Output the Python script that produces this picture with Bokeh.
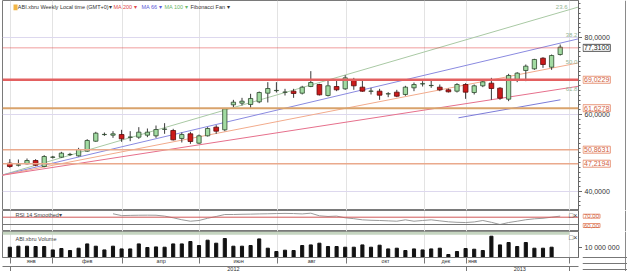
import numpy as np
from bokeh.plotting import figure
from bokeh.layouts import column, row
from bokeh.models import Range1d, LinearAxis, FixedTicker, Label, Span, BoxAnnotation, Grid
from bokeh.embed import file_html
from bokeh.resources import INLINE

FONT = "Liberation Sans"

# ---------------- data ----------------
opens = [47.36, 46.84, 47.19, 48.05, 46.49, 48.88, 48.92, 49.58, 49.26, 50.48,
         53.07, 54.78, 54.63, 54.80, 54.08, 54.11, 54.63, 54.46, 56.15, 55.84,
         53.77, 54.98, 52.55, 54.46, 56.71, 56.02, 62.51, 62.94, 62.60, 63.29,
         65.54, 66.20, 65.77, 66.06, 65.54, 67.27, 67.79, 64.94, 67.27, 66.67,
         69.09, 67.10, 66.03, 66.06, 65.34, 65.80, 65.20, 66.93, 67.94, 67.50,
         67.10, 66.41, 66.06, 67.79, 65.71, 67.45, 68.14, 66.84, 63.98, 69.00,
         71.43, 71.86, 74.63, 72.29, 75.58]
closes = [46.49, 46.93, 48.05, 46.84, 49.09, 48.95, 49.96, 49.64, 50.91, 53.25,
          55.15, 54.83, 54.98, 53.68, 54.14, 55.41, 55.41, 56.10, 56.22, 53.42,
          54.80, 52.99, 54.46, 56.36, 55.67, 61.47, 63.20, 63.46, 64.16, 65.71,
          66.75, 66.26, 65.83, 65.46, 67.10, 68.31, 65.11, 67.45, 66.41, 69.52,
          67.45, 66.06, 66.09, 65.02, 65.40, 64.76, 67.10, 67.79, 68.00, 67.56,
          66.41, 65.89, 67.79, 65.80, 67.45, 68.48, 66.75, 64.24, 70.13, 70.74,
          72.55, 74.29, 72.99, 75.32, 77.49]
highs = [48.40, 48.31, 48.57, 48.40, 49.44, 49.26, 50.30, 50.04, 51.34, 53.59,
         55.50, 55.32, 55.67, 56.02, 55.67, 56.71, 56.36, 57.14, 57.75, 56.28,
         55.32, 55.50, 54.80, 56.71, 57.23, 61.64, 63.81, 64.33, 65.37, 65.97,
         68.40, 68.40, 66.67, 66.67, 67.45, 71.26, 67.97, 68.83, 68.83, 70.22,
         69.52, 69.18, 66.93, 66.67, 65.80, 66.41, 67.45, 68.31, 68.66, 68.83,
         67.79, 66.75, 68.14, 68.14, 67.79, 69.00, 69.52, 67.10, 70.56, 71.00,
         72.99, 74.46, 74.89, 75.58, 78.18]
lows = [46.15, 46.49, 47.01, 46.58, 46.32, 48.57, 48.74, 49.26, 49.09, 50.30,
        52.90, 54.46, 53.94, 52.90, 53.07, 53.68, 54.11, 53.94, 54.98, 53.25,
        52.73, 52.38, 52.38, 54.29, 54.98, 55.67, 61.91, 62.34, 61.73, 62.94,
        63.12, 65.71, 64.94, 64.33, 65.20, 67.10, 64.94, 64.68, 66.06, 66.41,
        66.41, 65.89, 65.20, 63.81, 64.50, 64.50, 64.85, 66.06, 67.27, 66.93,
        66.06, 65.71, 65.71, 64.07, 65.20, 67.10, 63.81, 63.81, 63.46, 68.40,
        68.66, 71.60, 72.12, 71.60, 75.32]

volume_mln = [10, 11, 11, 10.7, 10.7, 7.3, 8.7, 6.7, 9, 13.3,
              11, 7.3, 11, 8.3, 8.3, 13.3, 9.7, 10.3, 10, 13.3,
              13.3, 15.7, 11.7, 17, 14, 18.7, 11, 11, 11.7, 18.3,
              9, 5.7, 7, 6.7, 11.7, 12.3, 14, 10.7, 10.7, 10,
              10, 12.3, 10, 12, 8.3, 9, 6.7, 8.3, 7.3, 8.3,
              9, 2.7, 5.7, 8.7, 8, 6.7, 21, 12.3, 14.7, 10.7,
              14.7, 9, 9, 10]
volume_ticks = [10]
volume_tick_labels = ["10 000 000"]

rsi_start = 12
rsi_values = [74.7, 72.2, 72.5, 72.7, 72.8, 72.7, 71.5, 69.2, 66.5, 64.5,
              65.5, 68.5, 71.0, 73.7, 73.7, 74.0, 74.2, 74.5, 74.7, 75.0,
              75.2, 75.0, 74.5, 75.5, 71.9, 71.0, 71.5, 69.2, 68.0, 66.4,
              65.8, 65.5, 65.0, 64.5, 66.4, 64.5, 65.5, 66.4, 65.0, 63.7,
              63.0, 62.7, 63.5, 65.5, 63.0, 60.0, 62.7, 64.5, 66.5, 67.8,
              68.5, 70.0, 71.5]

month_bounds = [0.08, 4.97, 13.1, 22.06, 31.13, 39.15, 48.22, 53.1, 65.08]
month_centers = [2.5, 9.0, 17.6, 26.6, 35.1, 43.7, 50.7, 53.8]
month_names = ["янв", "фев", "апр", "июн", "авг", "окт", "дек", "янв"]
year_bounds = [0.08, 53.1, 65.08]
year_centers = [26.0, 59.3]
year_names = ["2012", "2013"]

price_ticks = [40, 60, 80]
price_tick_labels = ["40,0000", "60,0000", "80,0000"]

levels = [77.31, 69.0229, 61.6278, 50.8631, 47.2194]
level_labels = ["77,3100", "69,0229", "61,6278", "50,8631", "47,2194"]
level_colors = ["#e03c3c", "#e36060", "#d9a36c", "#eaa98c", "#eaa98c"]
level_widths = [1, 2.5, 2, 1.5, 1.5]
level_dash = ["1 1", "solid", "solid", "solid", "solid"]

fan_origin_x, fan_origin_y = -1.08, 44.16
fan_end_x = 66.13
fan_end_y = [87.92, 79.66, 73.40, 67.33]
fan_names = ["23.6", "38.2", "50.0", "61.8"]
fan_colors = ["#a9c9a4", "#8a8ae0", "#f2ab8c", "#e6708c"]

trend_x = [52.17, 64.03]
trend_y = [59.14, 63.82]

rsi_levels = [70, 60]
rsi_level_labels = ["70,00", "60,00"]

n = len(opens)
week = list(range(n))
xr = Range1d(-0.849, 66.128)
SIDE_W = 45


def base_fig(frame_h, yr, bottom=0):
    f = figure(frame_width=576, frame_height=frame_h, x_range=xr, y_range=yr,
               output_backend="svg", toolbar_location=None, x_axis_type=None,
               y_axis_type=None, min_border_left=2, min_border_right=4,
               min_border_top=0, min_border_bottom=bottom)
    f.outline_line_color = "#7a7a7a"
    f.background_fill_color = "white"
    f.border_fill_color = "white"
    f.add_layout(Grid(dimension=0, ticker=FixedTicker(ticks=month_bounds),
                      grid_line_color="#e3e3e3"), "center")
    return f


def side_fig(frame_h, yr, bottom=0):
    s = figure(frame_width=SIDE_W, frame_height=frame_h, x_range=Range1d(0, SIDE_W),
               y_range=yr, output_backend="svg", toolbar_location=None,
               x_axis_type=None, y_axis_type=None, min_border_left=0,
               min_border_right=0, min_border_top=0, min_border_bottom=bottom)
    s.outline_line_color = None
    s.background_fill_color = "white"
    s.border_fill_color = "white"
    s.grid.visible = False
    s.add_layout(Span(location=43, dimension="height", line_color="#8a8a8a", line_width=1))
    return s


def right_axis(f, ticks, minor=None):
    # price scale line + ticks; its texts sit in the side panel next to it
    ax = LinearAxis(ticker=FixedTicker(ticks=ticks, minor_ticks=minor or []),
                    major_label_overrides={t: "" for t in ticks})
    ax.axis_line_color = "#666666"
    ax.major_tick_in = 0
    ax.minor_tick_in = 0
    ax.major_tick_out = 4
    ax.minor_tick_out = 2
    ax.major_tick_line_color = "#666666"
    ax.minor_tick_line_color = "#666666"
    ax.major_label_standoff = 0
    ax.major_label_text_font_size = "1px"
    f.add_layout(ax, "right")
    return ax


def tick_text(s, y, text):
    s.add_layout(Label(x=2, y=y, text=text, text_font=FONT, text_font_size="7px",
                       text_color="#333333", text_align="left", text_baseline="middle"))


def box_label(s, y, text, color, border, size="7px", pad=1, dy=0):
    s.add_layout(Label(x=0.5, y=y, y_offset=dy, text=text, text_font=FONT,
                       text_font_size=size, text_color=color, text_align="left",
                       text_baseline="middle", background_fill_color="white",
                       border_line_color=border, border_line_width=1, padding=pad))


def txt(f, x, y, text, color, size="6px", align="left"):
    f.add_layout(Label(x=x, y=y, text=text, text_font=FONT, text_font_size=size,
                       text_color=color, text_align=align, text_baseline="middle"))


# ---------------- main price panel ----------------
yr_p = Range1d(35.065, 89.61)
p = base_fig(210, yr_p)
p.add_layout(Grid(dimension=1, ticker=FixedTicker(ticks=price_ticks),
                  grid_line_color="#ddd8ee"), "center")

for lv, c, w, d in zip(levels, level_colors, level_widths, level_dash):
    p.add_layout(Span(location=lv, dimension="width", line_color=c, line_width=w, line_dash=d))

p.segment(x0=[fan_origin_x] * len(fan_end_y), y0=[fan_origin_y] * len(fan_end_y),
          x1=[fan_end_x] * len(fan_end_y), y1=fan_end_y, line_color=fan_colors, line_width=1)
p.line(trend_x, trend_y, line_color="#7c7cd8", line_width=1)

p.segment(x0=week, y0=lows, x1=week, y1=highs, line_color="#3a3a3a", line_width=1)
inc = [i for i in week if closes[i] >= opens[i]]
dec = [i for i in week if closes[i] < opens[i]]
p.vbar(x=inc, width=0.5, bottom=[opens[i] for i in inc], top=[closes[i] for i in inc],
       fill_color="#a2dba2", line_color="#2e4a2e", line_width=0.8)
p.vbar(x=dec, width=0.55, bottom=[closes[i] for i in dec], top=[opens[i] for i in dec],
       fill_color="#cc1a1a", line_color="#5a0a0a", line_width=0.8)

for name, fy, fx in zip(fan_names, [88.05, 80.6, 73.55, 66.7], [64.85, 66.0, 66.0, 66.0]):
    txt(p, fx, fy, name, "#93b493", size="6px", align="right")

right_axis(p, price_ticks, list(np.arange(35, 90.1, 1.25)))

# header legend
p.add_layout(BoxAnnotation(left=0.43, right=0.9, top=88.6, bottom=87.1,
                           fill_color="#f2b544", fill_alpha=1, line_color=None))
txt(p, 0.93, 87.8, "ABI.xbru Weekly Local time (GMT+0)▾", "#333333", size="5.5px")
txt(p, 12.06, 87.8, "MA 200 ▾", "#e04848", size="5.5px")
txt(p, 15.31, 87.8, "MA 66 ▾", "#5a5ad8", size="5.5px")
txt(p, 17.99, 87.8, "MA 100 ▾", "#6ab86a", size="5.5px")
txt(p, 21.01, 87.8, "Fibonacci Fan ▾", "#333333", size="5.5px")

ps = side_fig(210, yr_p)
for t, s in zip(price_ticks, price_tick_labels):
    tick_text(ps, t, s)
for lv, lab in zip(levels, level_labels):
    if lab == "77,3100":
        box_label(ps, lv, lab, "#222222", "#555555")
    else:
        box_label(ps, lv, lab, "#d0603e", "#e8967a")

# ---------------- RSI panel ----------------
yr_r = Range1d(50.41, 79.18)
r = base_fig(21, yr_r)
r.add_layout(Span(location=rsi_levels[0], dimension="width", line_color="#d05858", line_width=1))
r.add_layout(Span(location=rsi_levels[1], dimension="width", line_color="#777777", line_width=1))
r.line(list(range(rsi_start, rsi_start + len(rsi_values))), rsi_values,
       line_color="#9a9a9a", line_width=1)
txt(r, 0.66, 72.7, "RSI 14 Smoothed▾", "#444444", size="5.5px")
txt(r, 66.0, 73.0, "□×", "#333333", size="7px", align="right")
right_axis(r, [])

rs = side_fig(21, yr_r)
for lv, lab, dy in zip(rsi_levels, rsi_level_labels, [1, -1]):
    box_label(rs, lv, lab, "#d0603e", "#e8967a", size="6px", pad=(1, 0), dy=dy)

# ---------------- volume panel ----------------
yr_v = Range1d(-0.3, 25.7)
v = base_fig(26, yr_v)
right_axis(v, volume_ticks)
v.add_layout(BoxAnnotation(right=65.08, bottom=22.4, fill_color="#c5d5c0",
                           fill_alpha=1, line_color=None, level="underlay"))
v.vbar(x=list(range(len(volume_mln))), width=0.36, top=volume_mln, bottom=0,
       fill_color="#111111", line_color="#111111")
txt(v, 0.66, 18.4, "ABI.xbru Volume", "#444444", size="5.5px")
txt(v, 66.0, 19.7, "□×", "#333333", size="7px", align="right")

for ticks, minor, names in [(month_centers, month_bounds, month_names),
                            (year_centers, year_bounds, year_names)]:
    ax = LinearAxis(ticker=FixedTicker(ticks=ticks, minor_ticks=minor),
                    major_label_overrides={t: s for t, s in zip(ticks, names)})
    ax.axis_line_color = "#777777"
    ax.major_tick_in = 0
    ax.major_tick_out = 0
    ax.minor_tick_in = 0
    ax.minor_tick_out = 6
    ax.minor_tick_line_color = "#777777"
    ax.major_label_standoff = -6
    ax.major_label_text_font = FONT
    ax.major_label_text_font_size = "5.5px"
    ax.major_label_text_color = "#333333"
    v.add_layout(ax, "below")

# side of the volume panel also covers the two date rows (14 px = 14 units below 0)
vs = side_fig(40, Range1d(-14.3, 25.7))
for t, s in zip(volume_ticks, volume_tick_labels):
    tick_text(vs, t, s)
for yline in [-0.3, -6.3, -12.3]:
    vs.add_layout(Span(location=yline, dimension="width", line_color="#777777", line_width=1))

layout = column(row(p, ps), row(r, rs), row(v, vs))
open("out.html", "w").write(file_html(layout, INLINE))
